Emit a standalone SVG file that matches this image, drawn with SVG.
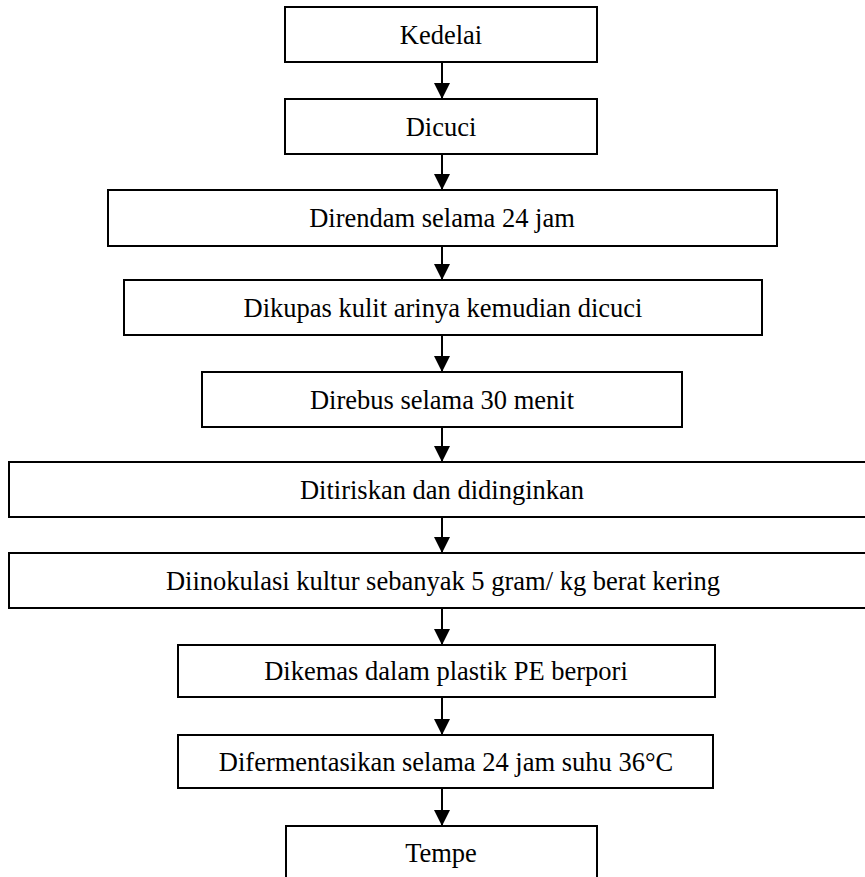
<svg xmlns="http://www.w3.org/2000/svg" width="865" height="877" viewBox="0 0 865 877">
<style>
.box{fill:#fff;stroke:#000;stroke-width:2}
.lbl{font-family:"Liberation Serif","Times New Roman",serif;font-size:26.5px;fill:#000;text-anchor:middle}
.con{stroke:#000;stroke-width:2;fill:none}
</style>
<defs>
<marker id="ah" markerUnits="userSpaceOnUse" markerWidth="16" markerHeight="16" refX="16" refY="8" orient="auto">
<path d="M0,0 L16,8 L0,16 Z" fill="#000"/>
</marker>
</defs>
<rect width="865" height="877" fill="#fff"/>
<g id="n1"><rect class="box" x="285" y="7" width="312" height="55"/><text class="lbl" x="441" y="44">Kedelai</text></g>
<g id="n2"><rect class="box" x="285" y="99" width="312" height="55"/><text class="lbl" x="441" y="136">Dicuci</text></g>
<g id="n3"><rect class="box" x="108" y="190" width="669" height="56"/><text class="lbl" x="442" y="227">Direndam selama 24 jam</text></g>
<g id="n4"><rect class="box" x="124" y="280" width="638" height="55"/><text class="lbl" x="443" y="317">Dikupas kulit arinya kemudian dicuci</text></g>
<g id="n5"><rect class="box" x="202" y="372" width="480" height="55"/><text class="lbl" x="442" y="409">Direbus selama 30 menit</text></g>
<g id="n6"><rect class="box" x="9" y="462" width="870" height="55"/><text class="lbl" x="442" y="499">Ditiriskan dan didinginkan</text></g>
<g id="n7"><rect class="box" x="9" y="553" width="870" height="55"/><text class="lbl" x="443" y="590">Diinokulasi kultur sebanyak 5 gram/ kg berat kering</text></g>
<g id="n8"><rect class="box" x="178" y="645" width="537" height="52"/><text class="lbl" x="446" y="680">Dikemas dalam plastik PE berpori</text></g>
<g id="n9"><rect class="box" x="178" y="735" width="535" height="53"/><text class="lbl" x="446" y="771">Difermentasikan selama 24 jam suhu 36°C</text></g>
<g id="n10"><rect class="box" x="286" y="826" width="311" height="60"/><text class="lbl" x="441" y="862">Tempe</text></g>
<g id="connectors">
<line class="con" x1="442" y1="62" x2="442" y2="99" marker-end="url(#ah)"/>
<line class="con" x1="442" y1="154" x2="442" y2="190" marker-end="url(#ah)"/>
<line class="con" x1="442" y1="246" x2="442" y2="280" marker-end="url(#ah)"/>
<line class="con" x1="442" y1="335" x2="442" y2="372" marker-end="url(#ah)"/>
<line class="con" x1="442" y1="427" x2="442" y2="462" marker-end="url(#ah)"/>
<line class="con" x1="442" y1="517" x2="442" y2="553" marker-end="url(#ah)"/>
<line class="con" x1="442" y1="608" x2="442" y2="645" marker-end="url(#ah)"/>
<line class="con" x1="442" y1="697" x2="442" y2="735" marker-end="url(#ah)"/>
<line class="con" x1="442" y1="788" x2="442" y2="826" marker-end="url(#ah)"/>
</g>
</svg>
